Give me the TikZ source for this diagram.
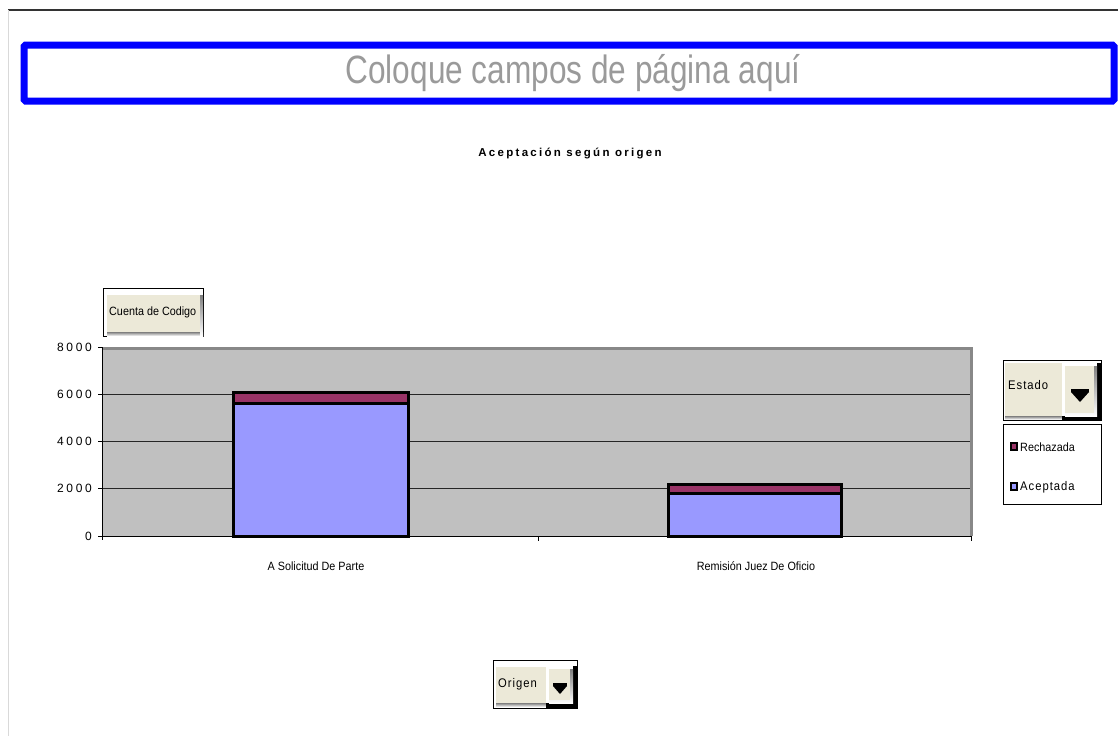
\documentclass[tikz,border=0pt]{standalone}
\usepackage{fontspec}
\setmainfont{Liberation Sans}
\newfontfamily\titlefont[FakeStretch=0.8]{Liberation Sans}
\newfontfamily\narrowfont[FakeStretch=0.9]{Liberation Sans}
\newfontfamily\spacednarrow[FakeStretch=0.9,LetterSpace=8]{Liberation Sans}
\newfontfamily\digitfont[LetterSpace=22]{Liberation Sans}
\newfontfamily\chartfont[LetterSpace=20]{Liberation Sans}
\definecolor{plotgray}{HTML}{C0C0C0}
\definecolor{plotedge}{HTML}{888888}
\definecolor{acept}{HTML}{9999FF}
\definecolor{rech}{HTML}{993366}
\definecolor{beige}{HTML}{ECE9D8}
\definecolor{shade}{HTML}{ACA899}
\definecolor{pagetext}{HTML}{9A9A9A}
\definecolor{pageblue}{HTML}{0000FF}
\tikzset{
  lbl/.style={inner sep=0pt, font=\narrowfont\fontsize{12}{14}\selectfont},
  slbl/.style={inner sep=0pt, font=\spacednarrow\fontsize{12.5}{14}\selectfont},
  ylbl/.style={inner sep=0pt, anchor=east, font=\digitfont\fontsize{12}{14}\selectfont},
  grid line/.style={black!85, line width=1.1pt},
  bar edge/.style={black, line width=3pt},
  btnframe/.style={draw=black, line width=0.8pt, fill=white},
}
\begin{document}
\begin{tikzpicture}[x=1pt,y=-1pt]
\useasboundingbox (0,0) rectangle (1118,736);
% page frame lines
\draw[black!80, line width=1.5pt] (8,10) -- (1118,10);
\draw[black!15, line width=1pt] (8,10) -- (8,736);
% page field area
\draw[pageblue, line width=7pt, rounded corners=1.5pt] (24,45) rectangle (1114,101);
\node[inner sep=0pt, text=pagetext, font=\titlefont\fontsize{39.5}{42}\selectfont] (page) at (573,73) {Coloque campos de página aquí};
% chart title
\node[inner sep=0pt, font=\chartfont\bfseries\fontsize{11.5}{13}\selectfont] (title) at (570,153) {Aceptación según origen};
% plot area
\fill[plotgray] (102,347) rectangle (971,536);
\foreach \v/\y in {2000/488.75,4000/441.5,6000/394.25} {
  \draw[grid line] (102,\y) -- (971,\y);
}
\draw[plotedge, line width=3pt] (102,348) -- (971,348) -- (971,536);
% bars
\fill[acept] (233,536) rectangle (408,403);
\fill[rech] (233,403) rectangle (408,392);
\draw[bar edge] (233,536) rectangle (408,392);
\draw[bar edge] (233,403) -- (408,403);
\fill[acept] (668,536) rectangle (841,493);
\fill[rech] (668,493) rectangle (841,484);
\draw[bar edge] (668,536) rectangle (841,484);
\draw[bar edge] (668,493) -- (841,493);
% axes
\draw[black, line width=1pt] (102,347) -- (102,540);
\draw[black, line width=1.2pt] (102,536.5) -- (971,536.5);
\draw[black, line width=0.8pt] (538,536) -- (538,541);
\draw[black, line width=0.8pt] (971,536) -- (971,541);
\foreach \v/\y in {0/536,2000/488.75,4000/441.5,6000/394.25,8000/347} {
  \draw[black, line width=0.8pt] (98,\y) -- (102,\y);
  \node[ylbl] (y\v) at (92,\y) {\v};
}
% category labels
\node[lbl] (cat1) at (316,566) {A Solicitud De Parte};
\node[lbl] (cat2) at (756,566) {Remisión Juez De Oficio};
% data field button
\draw[btnframe] (103,288) rectangle (203,336);
\fill[beige] (107,295) rectangle (200,332);
\fill[shade] (107,332) rectangle (203,336);
\fill[shade] (200,295) rectangle (203,336);
\node[lbl, anchor=west] (datafield) at (109,312) {Cuenta de Codigo};
% Estado button
\draw[btnframe] (1003,360) rectangle (1101,420);
\fill[beige] (1005,363) rectangle (1062,416);
\fill[shade] (1005,416) rectangle (1062,419.5);
\fill[black] (1062,363) rectangle (1100.5,419.5);
\fill[white] (1062,363) rectangle (1097,416);
\fill[shade] (1065,366) rectangle (1097,416);
\fill[beige] (1065,366) rectangle (1094,413);
\fill[black] (1071,389) rectangle (1089,392);
\fill[black] (1071,392) -- (1089,392) -- (1080,402) -- cycle;
\node[slbl, anchor=west] (estado) at (1008,385) {Estado};
% legend
\draw[black, line width=0.8pt] (1003,424) rectangle (1101,504);
\draw[black, line width=2pt, fill=rech] (1011,443) rectangle (1017,450);
\node[lbl, anchor=west] (leg1) at (1020,447) {Rechazada};
\draw[black, line width=2pt, fill=acept] (1011,483) rectangle (1017,490);
\node[slbl, anchor=west] (leg2) at (1020,487) {Aceptada};
% Origen button
\draw[btnframe] (493,660) rectangle (577,708);
\fill[beige] (496,667) rectangle (546,703);
\fill[shade] (496,703) rectangle (546,707);
\fill[black] (546,666) rectangle (576.5,707.5);
\fill[white] (546,666) rectangle (573,703);
\fill[shade] (549,669) rectangle (573,703);
\fill[beige] (549,669) rectangle (570,700);
\fill[black] (553,683) rectangle (567,686);
\fill[black] (553,686) -- (567,686) -- (560,694) -- cycle;
\node[slbl, anchor=west] (origen) at (498,684) {Origen};
\end{tikzpicture}
\end{document}
